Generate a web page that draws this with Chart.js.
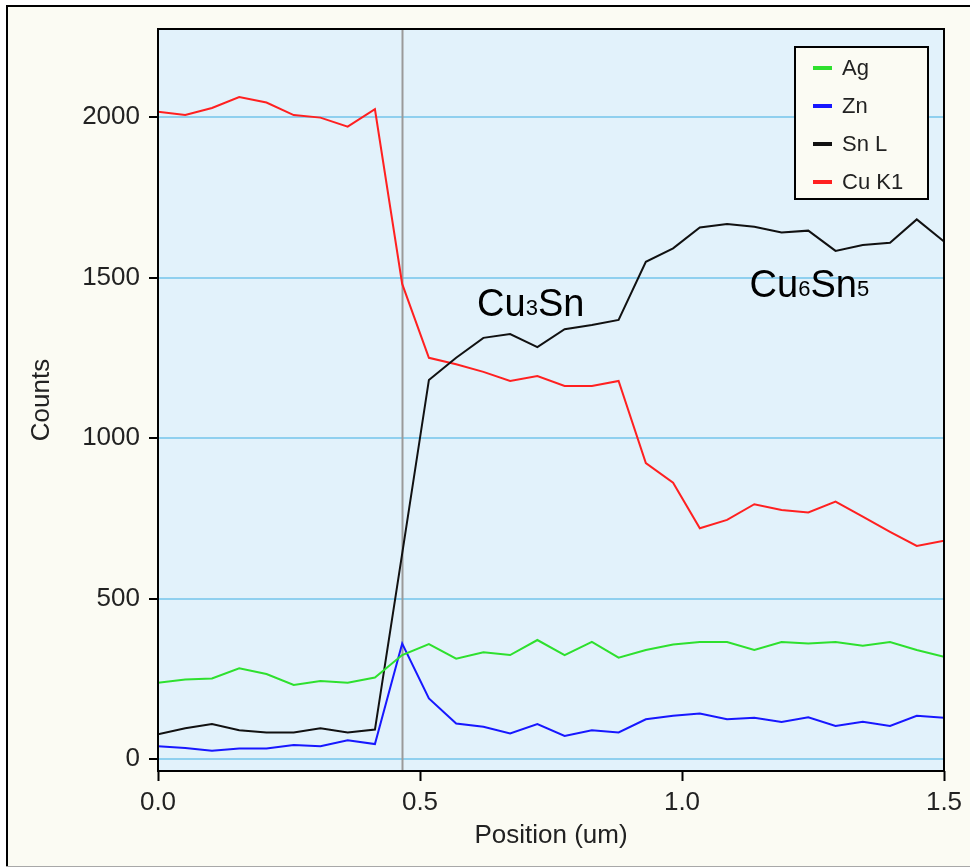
<!DOCTYPE html>
<html>
<head>
<meta charset="utf-8">
<title>Line scan</title>
<script src="https://cdn.jsdelivr.net/npm/chart.js@4"></script>
<style>
  html, body { margin: 0; padding: 0; background: #fff; }
  #wrap { width: 970px; height: 867px; }
</style>
</head>
<body>
<div id="wrap"><canvas id="chart" width="970" height="867"></canvas></div>
<script>
'use strict';
// ---------- dane ----------
const positions = [0, 0.052, 0.103, 0.155, 0.207, 0.259, 0.31, 0.362, 0.414, 0.466,
  0.517, 0.569, 0.621, 0.672, 0.724, 0.776, 0.828, 0.879, 0.931, 0.983,
  1.034, 1.086, 1.138, 1.19, 1.241, 1.293, 1.345, 1.397, 1.448, 1.5];
const agCounts = [238, 248, 251, 283, 265, 231, 243, 238, 254, 324, 358, 313, 333, 324, 371,
  324, 365, 316, 340, 357, 365, 365, 340, 365, 360, 365, 353, 365, 340, 319];
const znCounts = [40, 35, 26, 33, 33, 44, 40, 59, 47, 360, 189, 111, 101, 80, 109,
  72, 90, 83, 124, 135, 142, 124, 129, 116, 130, 103, 116, 103, 135, 129];
const snCounts = [77, 96, 109, 90, 83, 83, 96, 83, 92, 640, 1181, 1250, 1312, 1324, 1283,
  1339, 1352, 1368, 1549, 1591, 1656, 1667, 1658, 1640, 1646, 1583, 1601, 1608, 1681, 1612];
const cuCounts = [2016, 2006, 2028, 2062, 2045, 2006, 1998, 1970, 2024, 1480, 1250, 1230, 1206, 1178, 1193,
  1162, 1162, 1178, 922, 861, 719, 745, 794, 776, 768, 802, 755, 708, 664, 680];
const seriesNames = ['Ag', 'Zn', 'Sn L', 'Cu K1'];
const seriesColors = ['#2ee02e', '#1717ff', '#111111', '#ff2020'];
const xTicks = [0, 0.5, 1.0, 1.5];
const yTicks = [0, 500, 1000, 1500, 2000];
const cursorPos = 0.466;
// etykiety faz: [tekst, duży?]
const phaseLabels = [
  { x: 0.609, y: 1380, parts: [['Cu', true], ['3', false], ['Sn', true]] },
  { x: 1.129, y: 1439, parts: [['Cu', true], ['6', false], ['Sn', true], ['5', false]] },
];

const FONT = '"Liberation Sans", Arial, sans-serif';

// ---------- pluginy ----------
const framePlugin = {
  id: 'frame',
  beforeDraw(chart) {
    const { ctx, chartArea: a } = chart;
    ctx.save();
    ctx.fillStyle = '#ffffff';
    ctx.fillRect(0, 0, chart.width, chart.height);
    ctx.fillStyle = '#fbfbf3';
    ctx.fillRect(6, 5, chart.width - 6, 861);
    ctx.strokeStyle = '#000';
    ctx.lineWidth = 2;
    ctx.beginPath();
    ctx.moveTo(7, 866); ctx.lineTo(7, 6); ctx.lineTo(chart.width, 6);
    ctx.stroke();
    ctx.strokeStyle = '#a8a8a8';
    ctx.lineWidth = 1;
    ctx.beginPath();
    ctx.moveTo(6, 866.5); ctx.lineTo(chart.width, 866.5);
    ctx.stroke();
    ctx.fillStyle = '#e2f2fb';
    ctx.fillRect(a.left, a.top, a.right - a.left, a.bottom - a.top);
    ctx.restore();
  },
  beforeDatasetsDraw(chart) {
    const { ctx, chartArea: a, scales } = chart;
    const x = Math.round(scales.x.getPixelForValue(cursorPos)) + 0.5;
    ctx.save();
    ctx.strokeStyle = '#9a9a9a';
    ctx.lineWidth = 2;
    ctx.beginPath();
    ctx.moveTo(x, a.top); ctx.lineTo(x, a.bottom);
    ctx.stroke();
    ctx.restore();
  },
  afterDraw(chart) {
    const { ctx, chartArea: a, scales } = chart;
    ctx.save();
    // ramka obszaru wykresu
    ctx.strokeStyle = '#000';
    ctx.lineWidth = 2;
    ctx.strokeRect(a.left, a.top, a.right - a.left, a.bottom - a.top);

    // etykiety faz
    ctx.fillStyle = '#000';
    ctx.textBaseline = 'alphabetic';
    ctx.textAlign = 'left';
    phaseLabels.forEach(l => {
      let px = scales.x.getPixelForValue(l.x);
      const py = scales.y.getPixelForValue(l.y);
      l.parts.forEach(([t, big]) => {
        ctx.font = (big ? 38 : 22) + 'px ' + FONT;
        ctx.fillText(t, px, big ? py : py - 1);
        px += ctx.measureText(t).width;
      });
    });

    // legenda
    const lx = 795, ly = 47, lw = 133, lh = 152;
    ctx.fillStyle = '#fbfbf3';
    ctx.fillRect(lx, ly, lw, lh);
    ctx.strokeStyle = '#000';
    ctx.lineWidth = 2;
    ctx.strokeRect(lx, ly, lw, lh);
    ctx.font = '22px ' + FONT;
    ctx.textBaseline = 'middle';
    chart.data.datasets.forEach((ds, i) => {
      const cy = ly + 21 + i * 38;
      ctx.fillStyle = ds.borderColor;
      ctx.fillRect(lx + 18, cy - 2, 19, 4);
      ctx.fillStyle = '#222';
      ctx.fillText(ds.label, lx + 47, cy + 1);
    });
    ctx.restore();
  },
};

// ---------- wykres ----------
const seriesData = [agCounts, znCounts, snCounts, cuCounts];
const datasets = seriesData.map((vals, i) => ({
  label: seriesNames[i],
  data: vals.map((v, j) => ({ x: positions[j], y: v })),
  borderColor: seriesColors[i],
  backgroundColor: seriesColors[i],
  borderWidth: 2,
  pointRadius: 0,
  tension: 0,
  fill: false,
}));

new Chart(document.getElementById('chart'), {
  type: 'line',
  data: { datasets },
  plugins: [framePlugin],
  options: {
    responsive: false,
    animation: false,
    layout: { padding: { left: 0, right: 26, top: 29, bottom: 0 } },
    plugins: { legend: { display: false }, tooltip: { enabled: false } },
    scales: {
      x: {
        type: 'linear', min: 0, max: 1.5,
        afterBuildTicks: s => { s.ticks = xTicks.map(v => ({ value: v })); },
        afterFit: s => { s.height = 96; },
        grid: { drawOnChartArea: false, drawTicks: true, tickLength: 10, tickColor: '#000', tickWidth: 2 },
        border: { display: false },
        ticks: { color: '#222', font: { family: FONT, size: 26 }, padding: 6, maxRotation: 0,
          callback: v => Number(v).toFixed(1) },
        title: { display: true, text: 'Position (um)', color: '#222',
          font: { family: FONT, size: 26 }, padding: { top: 0, bottom: 16 } },
      },
      y: {
        type: 'linear', min: -37, max: 2274,
        afterBuildTicks: s => { s.ticks = yTicks.map(v => ({ value: v })); },
        afterFit: s => { s.width = 158; },
        grid: { color: '#8fd0ef', lineWidth: 2, drawTicks: true, tickLength: 9, tickColor: '#000', tickWidth: 2 },
        border: { display: false },
        ticks: { color: '#222', font: { family: FONT, size: 26 }, padding: 9,
          callback: v => String(v) },
        title: { display: true, text: 'Counts', color: '#222',
          font: { family: FONT, size: 26 }, padding: { top: 26, bottom: 0 } },
      },
    },
  },
});
</script>
</body>
</html>
